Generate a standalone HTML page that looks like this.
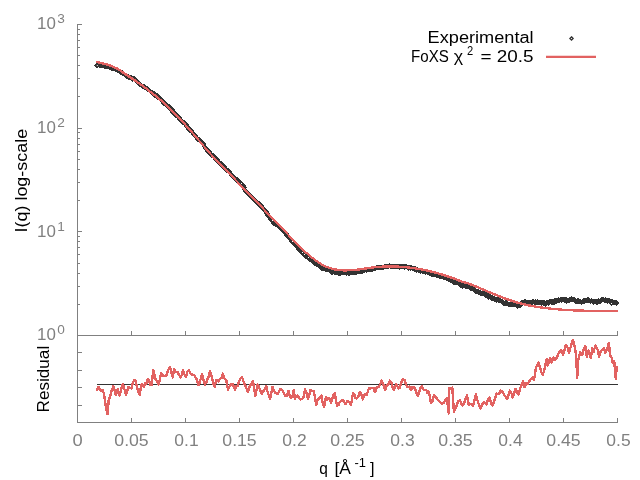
<!DOCTYPE html>
<html><head><meta charset="utf-8"><title>FoXS fit</title>
<style>html,body{margin:0;padding:0;background:#fff;}svg{display:block;will-change:transform;transform:translateZ(0);}</style></head>
<body><svg width="640" height="480" viewBox="0 0 640 480">
<rect width="640" height="480" fill="#fff"/>
<g stroke="#808080" stroke-width="1" fill="none" shape-rendering="crispEdges">
<path d="M77.5,24.0 V422.5 H617.5"/>
<path d="M77.5,335.5 H617.5"/>
<path d="M77.5,335.50 h4.5"/>
<path d="M77.5,304.29 h2.5"/>
<path d="M77.5,286.04 h2.5"/>
<path d="M77.5,273.09 h2.5"/>
<path d="M77.5,263.04 h2.5"/>
<path d="M77.5,254.83 h2.5"/>
<path d="M77.5,247.89 h2.5"/>
<path d="M77.5,241.88 h2.5"/>
<path d="M77.5,236.58 h2.5"/>
<path d="M77.5,231.83 h4.5"/>
<path d="M77.5,200.63 h2.5"/>
<path d="M77.5,182.37 h2.5"/>
<path d="M77.5,169.42 h2.5"/>
<path d="M77.5,159.37 h2.5"/>
<path d="M77.5,151.16 h2.5"/>
<path d="M77.5,144.22 h2.5"/>
<path d="M77.5,138.21 h2.5"/>
<path d="M77.5,132.91 h2.5"/>
<path d="M77.5,128.17 h4.5"/>
<path d="M77.5,96.96 h2.5"/>
<path d="M77.5,78.71 h2.5"/>
<path d="M77.5,65.75 h2.5"/>
<path d="M77.5,55.71 h2.5"/>
<path d="M77.5,47.50 h2.5"/>
<path d="M77.5,40.56 h2.5"/>
<path d="M77.5,34.55 h2.5"/>
<path d="M77.5,29.24 h2.5"/>
<path d="M77.5,24.50 h4.5"/>
<path d="M77.5,335.5 v-4.5"/>
<path d="M77.5,422.5 v-4.5"/>
<path d="M131.5,335.5 v-4.5"/>
<path d="M131.5,422.5 v-4.5"/>
<path d="M185.5,335.5 v-4.5"/>
<path d="M185.5,422.5 v-4.5"/>
<path d="M239.5,335.5 v-4.5"/>
<path d="M239.5,422.5 v-4.5"/>
<path d="M293.5,335.5 v-4.5"/>
<path d="M293.5,422.5 v-4.5"/>
<path d="M347.5,335.5 v-4.5"/>
<path d="M347.5,422.5 v-4.5"/>
<path d="M401.5,335.5 v-4.5"/>
<path d="M401.5,422.5 v-4.5"/>
<path d="M455.5,335.5 v-4.5"/>
<path d="M455.5,422.5 v-4.5"/>
<path d="M509.5,335.5 v-4.5"/>
<path d="M509.5,422.5 v-4.5"/>
<path d="M563.5,335.5 v-4.5"/>
<path d="M563.5,422.5 v-4.5"/>
<path d="M617.5,335.5 v-4.5"/>
<path d="M617.5,422.5 v-4.5"/>
<path d="M77.5,352.90 h4.5"/>
<path d="M77.5,370.30 h4.5"/>
<path d="M77.5,387.70 h4.5"/>
<path d="M77.5,405.10 h4.5"/>
</g>
<g font-family="Liberation Sans, sans-serif" font-size="16" fill="#808080">
<text x="77.5" y="446.2" text-anchor="middle" textLength="10.2" lengthAdjust="spacingAndGlyphs">0</text>
<text x="131.5" y="446.2" text-anchor="middle" textLength="34.4" lengthAdjust="spacingAndGlyphs">0.05</text>
<text x="186.5" y="446.2" text-anchor="middle" textLength="24.3" lengthAdjust="spacingAndGlyphs">0.1</text>
<text x="239.5" y="446.2" text-anchor="middle" textLength="34.4" lengthAdjust="spacingAndGlyphs">0.15</text>
<text x="294.5" y="446.2" text-anchor="middle" textLength="24.3" lengthAdjust="spacingAndGlyphs">0.2</text>
<text x="347.5" y="446.2" text-anchor="middle" textLength="34.4" lengthAdjust="spacingAndGlyphs">0.25</text>
<text x="402.5" y="446.2" text-anchor="middle" textLength="24.3" lengthAdjust="spacingAndGlyphs">0.3</text>
<text x="455.5" y="446.2" text-anchor="middle" textLength="34.4" lengthAdjust="spacingAndGlyphs">0.35</text>
<text x="510.5" y="446.2" text-anchor="middle" textLength="24.3" lengthAdjust="spacingAndGlyphs">0.4</text>
<text x="563.5" y="446.2" text-anchor="middle" textLength="34.4" lengthAdjust="spacingAndGlyphs">0.45</text>
<text x="618.5" y="446.2" text-anchor="middle" textLength="24.3" lengthAdjust="spacingAndGlyphs">0.5</text>
<text x="37" y="340.2" textLength="18.8" lengthAdjust="spacingAndGlyphs">10</text>
<text x="57.3" y="334.4" font-size="12.8" textLength="7.6" lengthAdjust="spacingAndGlyphs">0</text>
<text x="37" y="236.5" textLength="18.8" lengthAdjust="spacingAndGlyphs">10</text>
<text x="57.3" y="230.7" font-size="12.8" textLength="7.6" lengthAdjust="spacingAndGlyphs">1</text>
<text x="37" y="132.9" textLength="18.8" lengthAdjust="spacingAndGlyphs">10</text>
<text x="57.3" y="127.1" font-size="12.8" textLength="7.6" lengthAdjust="spacingAndGlyphs">2</text>
<text x="37" y="29.2" textLength="18.8" lengthAdjust="spacingAndGlyphs">10</text>
<text x="57.3" y="23.4" font-size="12.8" textLength="7.6" lengthAdjust="spacingAndGlyphs">3</text>
</g>
<g font-family="Liberation Sans, sans-serif" font-size="16" fill="#000">
<text transform="translate(26.6,232.4) rotate(-90)" textLength="103.5" lengthAdjust="spacingAndGlyphs">I(q) log-scale</text>
<text transform="translate(49.2,412.4) rotate(-90)" textLength="66.6" lengthAdjust="spacingAndGlyphs">Residual</text>
<text x="427.6" y="43" textLength="106" lengthAdjust="spacingAndGlyphs">Experimental</text>
<text x="411.1" y="62" textLength="37.8" lengthAdjust="spacingAndGlyphs">FoXS</text>
<text x="453.8" y="62" textLength="9.4" lengthAdjust="spacingAndGlyphs">χ</text>
<text x="467" y="55.4" font-size="12.8" textLength="6.2" lengthAdjust="spacingAndGlyphs">2</text>
<text x="480.5" y="62" textLength="53" lengthAdjust="spacingAndGlyphs">= 20.5</text>
<text x="319.3" y="473.6" textLength="8.6" lengthAdjust="spacingAndGlyphs">q</text>
<text x="334.5" y="473.6" textLength="16.5" lengthAdjust="spacingAndGlyphs">[Å</text>
<text x="354.5" y="467" font-size="12.8" textLength="11.5" lengthAdjust="spacingAndGlyphs">-1</text>
<text x="370" y="473.6" textLength="4.5" lengthAdjust="spacingAndGlyphs">]</text>
</g>
<path d="M97,384.5 H617.8" stroke="#333333" stroke-width="1" shape-rendering="crispEdges" fill="none"/>
<path d="M96.6,390.8 L98.6,386.9 L100.9,390.8 L102.5,390.0 L104.0,393.9 L105.6,405.6 L107.5,414.2 L108.8,399.4 L110.3,396.2 L111.8,390.0 L113.4,386.1 L115.8,394.7 L117.8,389.2 L119.4,395.5 L121.1,389.8 L122.8,383.8 L124.3,388.7 L125.9,394.7 L127.1,391.3 L128.3,386.9 L129.9,388.2 L131.4,388.4 L132.7,383.6 L134.0,380.5 L135.3,379.8 L136.9,386.9 L138.3,392.3 L139.7,394.7 L141.2,384.5 L142.6,384.6 L143.9,386.9 L145.2,383.1 L146.5,383.8 L147.8,379.0 L149.1,381.0 L150.4,384.7 L151.7,385.3 L153.3,369.7 L155.6,379.0 L157.2,381.6 L158.8,384.5 L161.1,372.8 L163.4,375.9 L165.0,376.2 L166.6,375.2 L168.3,369.7 L170.0,367.3 L171.4,373.0 L172.8,377.5 L174.0,368.9 L175.8,372.1 L177.5,372.0 L179.1,374.9 L180.6,377.5 L181.8,375.1 L183.0,370.5 L184.5,374.4 L186.0,376.7 L187.4,371.7 L188.9,370.5 L190.4,373.6 L192.0,374.4 L193.2,375.2 L194.4,375.2 L195.7,377.7 L197.0,379.9 L198.3,385.3 L199.6,383.3 L200.9,377.9 L202.2,374.4 L203.6,380.4 L205.0,384.5 L206.2,382.9 L207.5,378.8 L208.8,376.4 L210.0,371.2 L211.6,376.0 L213.1,383.0 L214.7,386.9 L216.2,379.8 L218.6,381.4 L220.0,378.6 L221.4,378.1 L222.8,373.6 L224.6,378.8 L226.4,380.6 L228.0,390.0 L229.6,386.1 L231.1,384.2 L232.7,383.8 L235.0,390.0 L236.3,385.9 L237.6,386.3 L238.9,381.4 L240.4,378.8 L242.0,376.7 L243.2,380.8 L244.4,383.8 L246.1,387.1 L247.8,392.3 L249.8,386.1 L251.4,383.8 L253.0,381.4 L255.3,396.2 L257.7,384.5 L259.0,387.1 L260.3,390.1 L261.6,393.9 L263.2,391.7 L264.7,389.1 L266.2,386.1 L267.6,392.0 L268.9,395.2 L270.2,398.6 L272.5,386.9 L273.8,390.9 L275.1,392.6 L276.4,393.1 L277.7,394.0 L279.0,391.3 L280.3,389.2 L282.1,389.7 L283.9,393.1 L285.4,395.9 L287.0,395.5 L288.6,390.8 L289.9,396.3 L291.2,397.8 L292.5,395.7 L293.8,390.0 L294.8,398.6 L297.2,395.5 L298.5,397.1 L299.7,399.0 L301.0,399.4 L303.4,397.8 L305.0,389.2 L306.5,392.6 L308.0,398.6 L309.2,395.8 L310.5,390.0 L312.1,390.7 L313.6,390.8 L314.9,396.9 L316.2,404.8 L317.6,399.8 L319.0,398.6 L321.4,395.5 L322.7,402.9 L324.0,407.2 L326.0,397.0 L327.6,399.6 L329.2,397.8 L331.2,402.5 L333.0,396.0 L334.7,393.1 L337.0,405.6 L338.5,405.0 L340.0,401.7 L341.6,400.6 L343.3,400.2 L345.6,404.0 L347.2,401.3 L348.8,401.7 L351.0,404.8 L353.0,393.1 L354.2,394.0 L355.4,397.9 L356.6,398.6 L358.1,397.1 L359.7,392.3 L361.2,393.8 L362.8,399.4 L365.0,393.9 L366.7,394.7 L369.0,388.4 L370.6,388.6 L372.2,387.7 L373.6,388.0 L375.0,392.3 L376.9,386.9 L378.5,386.9 L380.1,384.7 L381.6,380.6 L383.4,384.6 L385.2,390.0 L386.7,385.3 L388.2,384.6 L389.8,380.6 L391.4,382.2 L392.7,388.2 L394.0,390.0 L396.0,384.5 L397.2,385.6 L398.5,388.8 L399.7,387.7 L401.4,382.4 L403.0,378.8 L404.6,380.2 L406.2,385.3 L407.8,387.3 L409.4,386.4 L411.0,390.0 L412.5,387.1 L414.0,386.9 L415.3,389.6 L416.7,393.6 L418.0,396.2 L419.3,391.4 L420.6,387.5 L421.9,386.1 L423.4,389.7 L425.0,390.0 L426.3,389.7 L427.6,393.1 L428.9,391.6 L431.0,403.3 L432.5,401.1 L434.0,395.5 L435.8,396.9 L437.5,399.4 L439.1,400.8 L440.6,402.6 L442.2,404.0 L443.8,402.6 L445.3,400.3 L446.9,397.8 L448.8,413.4 L449.2,388.4 L450.8,388.3 L452.3,387.7 L453.9,411.9 L456.2,407.2 L457.8,401.7 L460.0,400.2 L461.2,403.4 L462.5,405.6 L464.0,404.2 L465.4,398.9 L466.9,395.5 L468.8,404.8 L470.8,403.8 L473.0,406.0 L474.5,399.9 L476.0,394.4 L477.3,400.0 L478.6,403.8 L480.6,408.4 L482.3,404.1 L484.0,402.2 L486.4,404.5 L487.9,400.1 L489.5,397.5 L491.1,403.5 L492.7,405.3 L494.0,401.5 L495.3,397.7 L496.6,393.6 L499.0,394.4 L500.5,390.7 L502.0,391.2 L504.4,395.2 L505.8,396.7 L507.2,399.0 L508.5,395.1 L509.8,390.5 L511.1,391.9 L512.5,397.5 L514.0,393.7 L515.6,388.9 L517.0,392.2 L518.4,394.4 L520.8,386.6 L523.0,381.0 L524.7,387.3 L526.3,383.3 L527.8,383.7 L529.4,381.0 L531.0,379.0 L532.5,377.2 L534.0,380.3 L536.0,367.8 L538.4,362.3 L540.3,368.6 L541.5,372.5 L542.8,374.8 L544.7,368.6 L546.6,359.2 L547.8,365.5 L549.0,361.3 L550.2,358.4 L551.7,362.3 L553.3,357.7 L555.3,360.0 L557.0,357.4 L558.8,353.0 L561.0,349.8 L563.0,354.5 L564.4,350.9 L565.8,345.2 L567.4,347.0 L569.0,353.0 L570.5,347.5 L572.8,339.7 L575.0,347.5 L576.2,356.9 L577.2,378.0 L578.3,360.0 L580.3,352.2 L582.2,355.3 L583.8,348.7 L585.3,346.0 L586.9,356.9 L588.4,350.6 L590.8,357.7 L592.3,348.3 L593.4,352.2 L595.5,345.2 L597.8,349.8 L599.0,356.9 L601.0,350.6 L602.5,350.2 L604.0,348.3 L605.3,353.0 L607.2,348.3 L609.0,342.8 L610.0,355.3 L611.9,357.7 L612.7,363.0 L614.2,360.8 L615.8,378.8 L616.6,367.0 L617.3,371.7" stroke="#e26261" stroke-width="2.4" fill="none" stroke-linejoin="round" shape-rendering="crispEdges"/>
<path d="M96.8,63.3l1.9,1.9l-1.9,1.9l-1.9,-1.9zM97.8,63.1l1.9,1.9l-1.9,1.9l-1.9,-1.9zM98.8,63.0l1.9,1.9l-1.9,1.9l-1.9,-1.9zM99.8,63.3l1.9,1.9l-1.9,1.9l-1.9,-1.9zM100.8,63.3l1.9,1.9l-1.9,1.9l-1.9,-1.9zM101.8,63.6l1.9,1.9l-1.9,1.9l-1.9,-1.9zM102.8,63.6l1.9,1.9l-1.9,1.9l-1.9,-1.9zM103.8,64.0l1.9,1.9l-1.9,1.9l-1.9,-1.9zM104.8,64.2l1.9,1.9l-1.9,1.9l-1.9,-1.9zM105.8,64.2l1.9,1.9l-1.9,1.9l-1.9,-1.9zM106.8,64.7l1.9,1.9l-1.9,1.9l-1.9,-1.9zM107.8,64.6l1.9,1.9l-1.9,1.9l-1.9,-1.9zM108.8,64.9l1.9,1.9l-1.9,1.9l-1.9,-1.9zM109.8,65.6l1.9,1.9l-1.9,1.9l-1.9,-1.9zM110.8,65.9l1.9,1.9l-1.9,1.9l-1.9,-1.9zM111.8,66.2l1.9,1.9l-1.9,1.9l-1.9,-1.9zM112.8,66.3l1.9,1.9l-1.9,1.9l-1.9,-1.9zM113.8,66.7l1.9,1.9l-1.9,1.9l-1.9,-1.9zM114.8,67.0l1.9,1.9l-1.9,1.9l-1.9,-1.9zM115.8,67.5l1.9,1.9l-1.9,1.9l-1.9,-1.9zM116.8,67.9l1.9,1.9l-1.9,1.9l-1.9,-1.9zM117.8,68.3l1.9,1.9l-1.9,1.9l-1.9,-1.9zM118.8,68.8l1.9,1.9l-1.9,1.9l-1.9,-1.9zM119.8,69.8l1.9,1.9l-1.9,1.9l-1.9,-1.9zM120.8,70.5l1.9,1.9l-1.9,1.9l-1.9,-1.9zM121.8,70.5l1.9,1.9l-1.9,1.9l-1.9,-1.9zM122.8,71.1l1.9,1.9l-1.9,1.9l-1.9,-1.9zM123.8,72.0l1.9,1.9l-1.9,1.9l-1.9,-1.9zM124.8,72.9l1.9,1.9l-1.9,1.9l-1.9,-1.9zM125.8,73.4l1.9,1.9l-1.9,1.9l-1.9,-1.9zM126.8,74.1l1.9,1.9l-1.9,1.9l-1.9,-1.9zM127.8,74.6l1.9,1.9l-1.9,1.9l-1.9,-1.9zM128.8,75.2l1.9,1.9l-1.9,1.9l-1.9,-1.9zM129.8,75.9l1.9,1.9l-1.9,1.9l-1.9,-1.9zM130.8,75.4l1.9,1.9l-1.9,1.9l-1.9,-1.9zM131.8,76.8l1.9,1.9l-1.9,1.9l-1.9,-1.9zM132.8,77.2l1.9,1.9l-1.9,1.9l-1.9,-1.9zM133.8,76.8l1.9,1.9l-1.9,1.9l-1.9,-1.9zM134.8,77.1l1.9,1.9l-1.9,1.9l-1.9,-1.9zM135.8,78.6l1.9,1.9l-1.9,1.9l-1.9,-1.9zM136.8,79.1l1.9,1.9l-1.9,1.9l-1.9,-1.9zM137.8,80.6l1.9,1.9l-1.9,1.9l-1.9,-1.9zM138.8,81.1l1.9,1.9l-1.9,1.9l-1.9,-1.9zM139.8,82.4l1.9,1.9l-1.9,1.9l-1.9,-1.9zM140.8,83.0l1.9,1.9l-1.9,1.9l-1.9,-1.9zM141.8,84.0l1.9,1.9l-1.9,1.9l-1.9,-1.9zM142.8,84.2l1.9,1.9l-1.9,1.9l-1.9,-1.9zM143.8,84.5l1.9,1.9l-1.9,1.9l-1.9,-1.9zM144.8,85.4l1.9,1.9l-1.9,1.9l-1.9,-1.9zM145.8,85.8l1.9,1.9l-1.9,1.9l-1.9,-1.9zM146.8,86.7l1.9,1.9l-1.9,1.9l-1.9,-1.9zM147.8,87.8l1.9,1.9l-1.9,1.9l-1.9,-1.9zM148.8,87.8l1.9,1.9l-1.9,1.9l-1.9,-1.9zM149.8,88.9l1.9,1.9l-1.9,1.9l-1.9,-1.9zM150.8,90.0l1.9,1.9l-1.9,1.9l-1.9,-1.9zM151.8,90.8l1.9,1.9l-1.9,1.9l-1.9,-1.9zM152.8,91.1l1.9,1.9l-1.9,1.9l-1.9,-1.9zM153.8,91.3l1.9,1.9l-1.9,1.9l-1.9,-1.9zM154.8,93.2l1.9,1.9l-1.9,1.9l-1.9,-1.9zM155.8,93.7l1.9,1.9l-1.9,1.9l-1.9,-1.9zM156.8,93.7l1.9,1.9l-1.9,1.9l-1.9,-1.9zM157.8,95.3l1.9,1.9l-1.9,1.9l-1.9,-1.9zM158.8,95.8l1.9,1.9l-1.9,1.9l-1.9,-1.9zM159.8,96.7l1.9,1.9l-1.9,1.9l-1.9,-1.9zM160.8,97.3l1.9,1.9l-1.9,1.9l-1.9,-1.9zM161.8,98.4l1.9,1.9l-1.9,1.9l-1.9,-1.9zM162.8,99.3l1.9,1.9l-1.9,1.9l-1.9,-1.9zM163.8,101.1l1.9,1.9l-1.9,1.9l-1.9,-1.9zM164.8,101.1l1.9,1.9l-1.9,1.9l-1.9,-1.9zM165.8,102.0l1.9,1.9l-1.9,1.9l-1.9,-1.9zM166.8,103.4l1.9,1.9l-1.9,1.9l-1.9,-1.9zM167.8,104.6l1.9,1.9l-1.9,1.9l-1.9,-1.9zM168.8,104.4l1.9,1.9l-1.9,1.9l-1.9,-1.9zM169.8,105.5l1.9,1.9l-1.9,1.9l-1.9,-1.9zM170.8,107.1l1.9,1.9l-1.9,1.9l-1.9,-1.9zM171.8,107.6l1.9,1.9l-1.9,1.9l-1.9,-1.9zM172.8,110.1l1.9,1.9l-1.9,1.9l-1.9,-1.9zM173.8,110.6l1.9,1.9l-1.9,1.9l-1.9,-1.9zM174.8,111.8l1.9,1.9l-1.9,1.9l-1.9,-1.9zM175.8,113.1l1.9,1.9l-1.9,1.9l-1.9,-1.9zM176.8,113.6l1.9,1.9l-1.9,1.9l-1.9,-1.9zM177.8,114.1l1.9,1.9l-1.9,1.9l-1.9,-1.9zM178.8,115.6l1.9,1.9l-1.9,1.9l-1.9,-1.9zM179.8,117.4l1.9,1.9l-1.9,1.9l-1.9,-1.9zM180.8,118.2l1.9,1.9l-1.9,1.9l-1.9,-1.9zM181.8,119.5l1.9,1.9l-1.9,1.9l-1.9,-1.9zM182.8,120.6l1.9,1.9l-1.9,1.9l-1.9,-1.9zM183.8,120.7l1.9,1.9l-1.9,1.9l-1.9,-1.9zM184.8,121.3l1.9,1.9l-1.9,1.9l-1.9,-1.9zM185.8,122.5l1.9,1.9l-1.9,1.9l-1.9,-1.9zM186.8,124.1l1.9,1.9l-1.9,1.9l-1.9,-1.9zM187.8,125.6l1.9,1.9l-1.9,1.9l-1.9,-1.9zM188.8,127.3l1.9,1.9l-1.9,1.9l-1.9,-1.9zM189.8,128.1l1.9,1.9l-1.9,1.9l-1.9,-1.9zM190.8,128.6l1.9,1.9l-1.9,1.9l-1.9,-1.9zM191.8,129.4l1.9,1.9l-1.9,1.9l-1.9,-1.9zM192.8,130.9l1.9,1.9l-1.9,1.9l-1.9,-1.9zM193.8,132.5l1.9,1.9l-1.9,1.9l-1.9,-1.9zM194.8,133.5l1.9,1.9l-1.9,1.9l-1.9,-1.9zM195.8,134.2l1.9,1.9l-1.9,1.9l-1.9,-1.9zM196.8,136.0l1.9,1.9l-1.9,1.9l-1.9,-1.9zM197.8,137.1l1.9,1.9l-1.9,1.9l-1.9,-1.9zM198.8,137.4l1.9,1.9l-1.9,1.9l-1.9,-1.9zM199.8,138.7l1.9,1.9l-1.9,1.9l-1.9,-1.9zM200.8,139.7l1.9,1.9l-1.9,1.9l-1.9,-1.9zM201.8,141.0l1.9,1.9l-1.9,1.9l-1.9,-1.9zM202.8,141.6l1.9,1.9l-1.9,1.9l-1.9,-1.9zM203.8,142.9l1.9,1.9l-1.9,1.9l-1.9,-1.9zM204.8,145.0l1.9,1.9l-1.9,1.9l-1.9,-1.9zM205.8,146.1l1.9,1.9l-1.9,1.9l-1.9,-1.9zM206.8,147.9l1.9,1.9l-1.9,1.9l-1.9,-1.9zM207.8,149.1l1.9,1.9l-1.9,1.9l-1.9,-1.9zM208.8,149.0l1.9,1.9l-1.9,1.9l-1.9,-1.9zM209.8,150.3l1.9,1.9l-1.9,1.9l-1.9,-1.9zM210.8,152.4l1.9,1.9l-1.9,1.9l-1.9,-1.9zM211.8,153.7l1.9,1.9l-1.9,1.9l-1.9,-1.9zM212.8,153.7l1.9,1.9l-1.9,1.9l-1.9,-1.9zM213.8,154.4l1.9,1.9l-1.9,1.9l-1.9,-1.9zM214.8,155.5l1.9,1.9l-1.9,1.9l-1.9,-1.9zM215.8,157.2l1.9,1.9l-1.9,1.9l-1.9,-1.9zM216.8,157.6l1.9,1.9l-1.9,1.9l-1.9,-1.9zM217.8,160.0l1.9,1.9l-1.9,1.9l-1.9,-1.9zM218.8,160.2l1.9,1.9l-1.9,1.9l-1.9,-1.9zM219.8,161.9l1.9,1.9l-1.9,1.9l-1.9,-1.9zM220.8,161.5l1.9,1.9l-1.9,1.9l-1.9,-1.9zM221.8,163.1l1.9,1.9l-1.9,1.9l-1.9,-1.9zM222.8,163.8l1.9,1.9l-1.9,1.9l-1.9,-1.9zM223.8,164.5l1.9,1.9l-1.9,1.9l-1.9,-1.9zM224.8,166.2l1.9,1.9l-1.9,1.9l-1.9,-1.9zM225.8,167.4l1.9,1.9l-1.9,1.9l-1.9,-1.9zM226.8,168.1l1.9,1.9l-1.9,1.9l-1.9,-1.9zM227.8,168.9l1.9,1.9l-1.9,1.9l-1.9,-1.9zM228.8,168.8l1.9,1.9l-1.9,1.9l-1.9,-1.9zM229.8,170.4l1.9,1.9l-1.9,1.9l-1.9,-1.9zM230.8,172.0l1.9,1.9l-1.9,1.9l-1.9,-1.9zM231.8,173.3l1.9,1.9l-1.9,1.9l-1.9,-1.9zM232.8,174.3l1.9,1.9l-1.9,1.9l-1.9,-1.9zM233.8,174.8l1.9,1.9l-1.9,1.9l-1.9,-1.9zM234.8,175.8l1.9,1.9l-1.9,1.9l-1.9,-1.9zM235.8,177.1l1.9,1.9l-1.9,1.9l-1.9,-1.9zM236.8,177.6l1.9,1.9l-1.9,1.9l-1.9,-1.9zM237.8,179.7l1.9,1.9l-1.9,1.9l-1.9,-1.9zM238.8,180.8l1.9,1.9l-1.9,1.9l-1.9,-1.9zM239.8,180.4l1.9,1.9l-1.9,1.9l-1.9,-1.9zM240.8,181.6l1.9,1.9l-1.9,1.9l-1.9,-1.9zM241.8,182.0l1.9,1.9l-1.9,1.9l-1.9,-1.9zM242.8,183.7l1.9,1.9l-1.9,1.9l-1.9,-1.9zM243.8,185.6l1.9,1.9l-1.9,1.9l-1.9,-1.9zM244.8,188.0l1.9,1.9l-1.9,1.9l-1.9,-1.9zM245.8,189.3l1.9,1.9l-1.9,1.9l-1.9,-1.9zM246.8,190.3l1.9,1.9l-1.9,1.9l-1.9,-1.9zM247.8,191.1l1.9,1.9l-1.9,1.9l-1.9,-1.9zM248.8,192.8l1.9,1.9l-1.9,1.9l-1.9,-1.9zM249.8,193.6l1.9,1.9l-1.9,1.9l-1.9,-1.9zM250.8,194.2l1.9,1.9l-1.9,1.9l-1.9,-1.9zM251.8,195.4l1.9,1.9l-1.9,1.9l-1.9,-1.9zM252.8,196.3l1.9,1.9l-1.9,1.9l-1.9,-1.9zM253.8,197.5l1.9,1.9l-1.9,1.9l-1.9,-1.9zM254.8,199.0l1.9,1.9l-1.9,1.9l-1.9,-1.9zM255.8,199.5l1.9,1.9l-1.9,1.9l-1.9,-1.9zM256.8,199.9l1.9,1.9l-1.9,1.9l-1.9,-1.9zM257.8,201.2l1.9,1.9l-1.9,1.9l-1.9,-1.9zM258.8,201.6l1.9,1.9l-1.9,1.9l-1.9,-1.9zM259.8,203.5l1.9,1.9l-1.9,1.9l-1.9,-1.9zM260.8,203.9l1.9,1.9l-1.9,1.9l-1.9,-1.9zM261.8,204.1l1.9,1.9l-1.9,1.9l-1.9,-1.9zM262.8,206.2l1.9,1.9l-1.9,1.9l-1.9,-1.9zM263.8,207.4l1.9,1.9l-1.9,1.9l-1.9,-1.9zM264.8,208.5l1.9,1.9l-1.9,1.9l-1.9,-1.9zM265.8,209.5l1.9,1.9l-1.9,1.9l-1.9,-1.9zM266.8,211.6l1.9,1.9l-1.9,1.9l-1.9,-1.9zM267.8,213.5l1.9,1.9l-1.9,1.9l-1.9,-1.9zM268.8,214.5l1.9,1.9l-1.9,1.9l-1.9,-1.9zM269.8,215.2l1.9,1.9l-1.9,1.9l-1.9,-1.9zM270.8,217.2l1.9,1.9l-1.9,1.9l-1.9,-1.9zM271.8,218.7l1.9,1.9l-1.9,1.9l-1.9,-1.9zM272.8,219.2l1.9,1.9l-1.9,1.9l-1.9,-1.9zM273.8,221.3l1.9,1.9l-1.9,1.9l-1.9,-1.9zM274.8,221.2l1.9,1.9l-1.9,1.9l-1.9,-1.9zM275.8,222.6l1.9,1.9l-1.9,1.9l-1.9,-1.9zM276.8,222.9l1.9,1.9l-1.9,1.9l-1.9,-1.9zM277.8,223.6l1.9,1.9l-1.9,1.9l-1.9,-1.9zM278.8,224.4l1.9,1.9l-1.9,1.9l-1.9,-1.9zM279.8,225.6l1.9,1.9l-1.9,1.9l-1.9,-1.9zM280.8,227.0l1.9,1.9l-1.9,1.9l-1.9,-1.9zM281.8,227.7l1.9,1.9l-1.9,1.9l-1.9,-1.9zM282.8,228.4l1.9,1.9l-1.9,1.9l-1.9,-1.9zM283.8,229.0l1.9,1.9l-1.9,1.9l-1.9,-1.9zM284.8,230.8l1.9,1.9l-1.9,1.9l-1.9,-1.9zM285.8,231.7l1.9,1.9l-1.9,1.9l-1.9,-1.9zM286.8,233.3l1.9,1.9l-1.9,1.9l-1.9,-1.9zM287.8,234.0l1.9,1.9l-1.9,1.9l-1.9,-1.9zM288.8,235.8l1.9,1.9l-1.9,1.9l-1.9,-1.9zM289.8,237.0l1.9,1.9l-1.9,1.9l-1.9,-1.9zM290.8,237.8l1.9,1.9l-1.9,1.9l-1.9,-1.9zM291.8,239.4l1.9,1.9l-1.9,1.9l-1.9,-1.9zM292.8,240.0l1.9,1.9l-1.9,1.9l-1.9,-1.9zM293.8,241.4l1.9,1.9l-1.9,1.9l-1.9,-1.9zM294.8,241.8l1.9,1.9l-1.9,1.9l-1.9,-1.9zM295.8,243.1l1.9,1.9l-1.9,1.9l-1.9,-1.9zM296.8,244.6l1.9,1.9l-1.9,1.9l-1.9,-1.9zM297.8,245.7l1.9,1.9l-1.9,1.9l-1.9,-1.9zM298.8,247.7l1.9,1.9l-1.9,1.9l-1.9,-1.9zM299.8,248.7l1.9,1.9l-1.9,1.9l-1.9,-1.9zM300.8,249.2l1.9,1.9l-1.9,1.9l-1.9,-1.9zM301.8,250.4l1.9,1.9l-1.9,1.9l-1.9,-1.9zM302.8,251.1l1.9,1.9l-1.9,1.9l-1.9,-1.9zM303.8,252.8l1.9,1.9l-1.9,1.9l-1.9,-1.9zM304.8,253.2l1.9,1.9l-1.9,1.9l-1.9,-1.9zM305.8,254.6l1.9,1.9l-1.9,1.9l-1.9,-1.9zM306.8,254.4l1.9,1.9l-1.9,1.9l-1.9,-1.9zM307.8,255.8l1.9,1.9l-1.9,1.9l-1.9,-1.9zM308.8,256.1l1.9,1.9l-1.9,1.9l-1.9,-1.9zM309.8,257.3l1.9,1.9l-1.9,1.9l-1.9,-1.9zM310.8,257.9l1.9,1.9l-1.9,1.9l-1.9,-1.9zM311.8,259.0l1.9,1.9l-1.9,1.9l-1.9,-1.9zM312.8,259.8l1.9,1.9l-1.9,1.9l-1.9,-1.9zM313.8,260.5l1.9,1.9l-1.9,1.9l-1.9,-1.9zM314.8,261.4l1.9,1.9l-1.9,1.9l-1.9,-1.9zM315.8,261.9l1.9,1.9l-1.9,1.9l-1.9,-1.9zM316.8,262.3l1.9,1.9l-1.9,1.9l-1.9,-1.9zM317.8,262.5l1.9,1.9l-1.9,1.9l-1.9,-1.9zM318.8,263.8l1.9,1.9l-1.9,1.9l-1.9,-1.9zM319.8,264.5l1.9,1.9l-1.9,1.9l-1.9,-1.9zM320.8,265.9l1.9,1.9l-1.9,1.9l-1.9,-1.9zM321.8,266.3l1.9,1.9l-1.9,1.9l-1.9,-1.9zM322.8,266.3l1.9,1.9l-1.9,1.9l-1.9,-1.9zM323.8,266.6l1.9,1.9l-1.9,1.9l-1.9,-1.9zM324.8,267.0l1.9,1.9l-1.9,1.9l-1.9,-1.9zM325.8,267.6l1.9,1.9l-1.9,1.9l-1.9,-1.9zM326.8,267.5l1.9,1.9l-1.9,1.9l-1.9,-1.9zM327.8,267.8l1.9,1.9l-1.9,1.9l-1.9,-1.9zM328.8,267.9l1.9,1.9l-1.9,1.9l-1.9,-1.9zM329.8,268.7l1.9,1.9l-1.9,1.9l-1.9,-1.9zM330.8,269.6l1.9,1.9l-1.9,1.9l-1.9,-1.9zM331.8,270.3l1.9,1.9l-1.9,1.9l-1.9,-1.9zM332.8,270.1l1.9,1.9l-1.9,1.9l-1.9,-1.9zM333.8,269.7l1.9,1.9l-1.9,1.9l-1.9,-1.9zM334.8,270.5l1.9,1.9l-1.9,1.9l-1.9,-1.9zM335.8,270.4l1.9,1.9l-1.9,1.9l-1.9,-1.9zM336.8,270.8l1.9,1.9l-1.9,1.9l-1.9,-1.9zM337.8,270.5l1.9,1.9l-1.9,1.9l-1.9,-1.9zM338.8,271.3l1.9,1.9l-1.9,1.9l-1.9,-1.9zM339.8,271.1l1.9,1.9l-1.9,1.9l-1.9,-1.9zM340.8,271.4l1.9,1.9l-1.9,1.9l-1.9,-1.9zM341.8,270.7l1.9,1.9l-1.9,1.9l-1.9,-1.9zM342.8,270.9l1.9,1.9l-1.9,1.9l-1.9,-1.9zM343.8,271.0l1.9,1.9l-1.9,1.9l-1.9,-1.9zM344.8,270.6l1.9,1.9l-1.9,1.9l-1.9,-1.9zM345.8,271.0l1.9,1.9l-1.9,1.9l-1.9,-1.9zM346.8,271.2l1.9,1.9l-1.9,1.9l-1.9,-1.9zM347.8,270.6l1.9,1.9l-1.9,1.9l-1.9,-1.9zM348.8,271.2l1.9,1.9l-1.9,1.9l-1.9,-1.9zM349.8,271.2l1.9,1.9l-1.9,1.9l-1.9,-1.9zM350.8,270.8l1.9,1.9l-1.9,1.9l-1.9,-1.9zM351.8,270.5l1.9,1.9l-1.9,1.9l-1.9,-1.9zM352.8,270.6l1.9,1.9l-1.9,1.9l-1.9,-1.9zM353.8,270.1l1.9,1.9l-1.9,1.9l-1.9,-1.9zM354.8,270.1l1.9,1.9l-1.9,1.9l-1.9,-1.9zM355.8,270.2l1.9,1.9l-1.9,1.9l-1.9,-1.9zM356.8,270.1l1.9,1.9l-1.9,1.9l-1.9,-1.9zM357.8,269.4l1.9,1.9l-1.9,1.9l-1.9,-1.9zM358.8,269.3l1.9,1.9l-1.9,1.9l-1.9,-1.9zM359.8,269.6l1.9,1.9l-1.9,1.9l-1.9,-1.9zM360.8,269.7l1.9,1.9l-1.9,1.9l-1.9,-1.9zM361.8,268.9l1.9,1.9l-1.9,1.9l-1.9,-1.9zM362.8,269.2l1.9,1.9l-1.9,1.9l-1.9,-1.9zM363.8,268.6l1.9,1.9l-1.9,1.9l-1.9,-1.9zM364.8,268.2l1.9,1.9l-1.9,1.9l-1.9,-1.9zM365.8,268.0l1.9,1.9l-1.9,1.9l-1.9,-1.9zM366.8,268.1l1.9,1.9l-1.9,1.9l-1.9,-1.9zM367.8,267.7l1.9,1.9l-1.9,1.9l-1.9,-1.9zM368.8,267.5l1.9,1.9l-1.9,1.9l-1.9,-1.9zM369.8,267.7l1.9,1.9l-1.9,1.9l-1.9,-1.9zM370.8,267.7l1.9,1.9l-1.9,1.9l-1.9,-1.9zM371.8,266.9l1.9,1.9l-1.9,1.9l-1.9,-1.9zM372.8,267.3l1.9,1.9l-1.9,1.9l-1.9,-1.9zM373.8,266.5l1.9,1.9l-1.9,1.9l-1.9,-1.9zM374.8,266.6l1.9,1.9l-1.9,1.9l-1.9,-1.9zM375.8,266.2l1.9,1.9l-1.9,1.9l-1.9,-1.9zM376.8,265.6l1.9,1.9l-1.9,1.9l-1.9,-1.9zM377.8,265.4l1.9,1.9l-1.9,1.9l-1.9,-1.9zM378.8,265.6l1.9,1.9l-1.9,1.9l-1.9,-1.9zM379.8,266.0l1.9,1.9l-1.9,1.9l-1.9,-1.9zM380.8,265.5l1.9,1.9l-1.9,1.9l-1.9,-1.9zM381.8,265.2l1.9,1.9l-1.9,1.9l-1.9,-1.9zM382.8,265.2l1.9,1.9l-1.9,1.9l-1.9,-1.9zM383.8,265.3l1.9,1.9l-1.9,1.9l-1.9,-1.9zM384.8,265.0l1.9,1.9l-1.9,1.9l-1.9,-1.9zM385.8,264.4l1.9,1.9l-1.9,1.9l-1.9,-1.9zM386.8,264.5l1.9,1.9l-1.9,1.9l-1.9,-1.9zM387.8,264.3l1.9,1.9l-1.9,1.9l-1.9,-1.9zM388.8,264.2l1.9,1.9l-1.9,1.9l-1.9,-1.9zM389.8,263.9l1.9,1.9l-1.9,1.9l-1.9,-1.9zM390.8,264.3l1.9,1.9l-1.9,1.9l-1.9,-1.9zM391.8,264.2l1.9,1.9l-1.9,1.9l-1.9,-1.9zM392.8,264.7l1.9,1.9l-1.9,1.9l-1.9,-1.9zM393.8,264.5l1.9,1.9l-1.9,1.9l-1.9,-1.9zM394.8,264.6l1.9,1.9l-1.9,1.9l-1.9,-1.9zM395.8,264.4l1.9,1.9l-1.9,1.9l-1.9,-1.9zM396.8,264.3l1.9,1.9l-1.9,1.9l-1.9,-1.9zM397.8,265.0l1.9,1.9l-1.9,1.9l-1.9,-1.9zM398.8,264.9l1.9,1.9l-1.9,1.9l-1.9,-1.9zM399.8,265.1l1.9,1.9l-1.9,1.9l-1.9,-1.9zM400.8,264.5l1.9,1.9l-1.9,1.9l-1.9,-1.9zM401.8,264.6l1.9,1.9l-1.9,1.9l-1.9,-1.9zM402.8,264.8l1.9,1.9l-1.9,1.9l-1.9,-1.9zM403.8,264.9l1.9,1.9l-1.9,1.9l-1.9,-1.9zM404.8,265.1l1.9,1.9l-1.9,1.9l-1.9,-1.9zM405.8,264.9l1.9,1.9l-1.9,1.9l-1.9,-1.9zM406.8,264.9l1.9,1.9l-1.9,1.9l-1.9,-1.9zM407.8,265.3l1.9,1.9l-1.9,1.9l-1.9,-1.9zM408.8,266.1l1.9,1.9l-1.9,1.9l-1.9,-1.9zM409.8,265.7l1.9,1.9l-1.9,1.9l-1.9,-1.9zM410.8,266.3l1.9,1.9l-1.9,1.9l-1.9,-1.9zM411.8,266.0l1.9,1.9l-1.9,1.9l-1.9,-1.9zM412.8,266.4l1.9,1.9l-1.9,1.9l-1.9,-1.9zM413.8,266.7l1.9,1.9l-1.9,1.9l-1.9,-1.9zM414.8,267.5l1.9,1.9l-1.9,1.9l-1.9,-1.9zM415.8,267.0l1.9,1.9l-1.9,1.9l-1.9,-1.9zM416.8,268.1l1.9,1.9l-1.9,1.9l-1.9,-1.9zM417.8,268.0l1.9,1.9l-1.9,1.9l-1.9,-1.9zM418.8,268.2l1.9,1.9l-1.9,1.9l-1.9,-1.9zM419.8,268.8l1.9,1.9l-1.9,1.9l-1.9,-1.9zM420.8,269.1l1.9,1.9l-1.9,1.9l-1.9,-1.9zM421.8,268.6l1.9,1.9l-1.9,1.9l-1.9,-1.9zM422.8,269.1l1.9,1.9l-1.9,1.9l-1.9,-1.9zM423.8,269.5l1.9,1.9l-1.9,1.9l-1.9,-1.9zM424.8,269.9l1.9,1.9l-1.9,1.9l-1.9,-1.9zM425.8,270.2l1.9,1.9l-1.9,1.9l-1.9,-1.9zM426.8,269.8l1.9,1.9l-1.9,1.9l-1.9,-1.9zM427.8,270.7l1.9,1.9l-1.9,1.9l-1.9,-1.9zM428.8,271.0l1.9,1.9l-1.9,1.9l-1.9,-1.9zM429.8,271.4l1.9,1.9l-1.9,1.9l-1.9,-1.9zM430.8,272.0l1.9,1.9l-1.9,1.9l-1.9,-1.9zM431.8,272.4l1.9,1.9l-1.9,1.9l-1.9,-1.9zM432.8,272.5l1.9,1.9l-1.9,1.9l-1.9,-1.9zM433.8,272.8l1.9,1.9l-1.9,1.9l-1.9,-1.9zM434.8,273.0l1.9,1.9l-1.9,1.9l-1.9,-1.9zM435.8,272.9l1.9,1.9l-1.9,1.9l-1.9,-1.9zM436.8,273.7l1.9,1.9l-1.9,1.9l-1.9,-1.9zM437.8,273.9l1.9,1.9l-1.9,1.9l-1.9,-1.9zM438.8,274.0l1.9,1.9l-1.9,1.9l-1.9,-1.9zM439.8,274.1l1.9,1.9l-1.9,1.9l-1.9,-1.9zM440.8,274.7l1.9,1.9l-1.9,1.9l-1.9,-1.9zM441.8,274.6l1.9,1.9l-1.9,1.9l-1.9,-1.9zM442.8,274.9l1.9,1.9l-1.9,1.9l-1.9,-1.9zM443.8,275.1l1.9,1.9l-1.9,1.9l-1.9,-1.9zM444.8,275.3l1.9,1.9l-1.9,1.9l-1.9,-1.9zM445.8,275.4l1.9,1.9l-1.9,1.9l-1.9,-1.9zM446.8,276.2l1.9,1.9l-1.9,1.9l-1.9,-1.9zM447.8,276.5l1.9,1.9l-1.9,1.9l-1.9,-1.9zM448.8,277.3l1.9,1.9l-1.9,1.9l-1.9,-1.9zM449.8,277.3l1.9,1.9l-1.9,1.9l-1.9,-1.9zM450.8,278.2l1.9,1.9l-1.9,1.9l-1.9,-1.9zM451.8,278.1l1.9,1.9l-1.9,1.9l-1.9,-1.9zM452.8,278.7l1.9,1.9l-1.9,1.9l-1.9,-1.9zM453.8,280.5l1.9,1.9l-1.9,1.9l-1.9,-1.9zM454.8,279.8l1.9,1.9l-1.9,1.9l-1.9,-1.9zM455.8,280.4l1.9,1.9l-1.9,1.9l-1.9,-1.9zM456.8,280.1l1.9,1.9l-1.9,1.9l-1.9,-1.9zM457.8,280.1l1.9,1.9l-1.9,1.9l-1.9,-1.9zM458.8,280.7l1.9,1.9l-1.9,1.9l-1.9,-1.9zM459.8,282.1l1.9,1.9l-1.9,1.9l-1.9,-1.9zM460.8,283.6l1.9,1.9l-1.9,1.9l-1.9,-1.9zM461.8,284.0l1.9,1.9l-1.9,1.9l-1.9,-1.9zM462.8,284.1l1.9,1.9l-1.9,1.9l-1.9,-1.9zM463.8,282.5l1.9,1.9l-1.9,1.9l-1.9,-1.9zM464.8,283.8l1.9,1.9l-1.9,1.9l-1.9,-1.9zM465.8,284.2l1.9,1.9l-1.9,1.9l-1.9,-1.9zM466.8,284.6l1.9,1.9l-1.9,1.9l-1.9,-1.9zM467.8,284.6l1.9,1.9l-1.9,1.9l-1.9,-1.9zM468.8,284.9l1.9,1.9l-1.9,1.9l-1.9,-1.9zM469.8,285.5l1.9,1.9l-1.9,1.9l-1.9,-1.9zM470.8,286.8l1.9,1.9l-1.9,1.9l-1.9,-1.9zM471.8,286.4l1.9,1.9l-1.9,1.9l-1.9,-1.9zM472.8,287.0l1.9,1.9l-1.9,1.9l-1.9,-1.9zM473.8,287.7l1.9,1.9l-1.9,1.9l-1.9,-1.9zM474.8,288.4l1.9,1.9l-1.9,1.9l-1.9,-1.9zM475.8,289.4l1.9,1.9l-1.9,1.9l-1.9,-1.9zM476.8,289.9l1.9,1.9l-1.9,1.9l-1.9,-1.9zM477.8,289.7l1.9,1.9l-1.9,1.9l-1.9,-1.9zM478.8,290.1l1.9,1.9l-1.9,1.9l-1.9,-1.9zM479.8,290.2l1.9,1.9l-1.9,1.9l-1.9,-1.9zM480.8,291.6l1.9,1.9l-1.9,1.9l-1.9,-1.9zM481.8,291.3l1.9,1.9l-1.9,1.9l-1.9,-1.9zM482.8,291.7l1.9,1.9l-1.9,1.9l-1.9,-1.9zM483.8,291.3l1.9,1.9l-1.9,1.9l-1.9,-1.9zM484.8,292.3l1.9,1.9l-1.9,1.9l-1.9,-1.9zM485.8,293.1l1.9,1.9l-1.9,1.9l-1.9,-1.9zM486.8,292.7l1.9,1.9l-1.9,1.9l-1.9,-1.9zM487.8,294.2l1.9,1.9l-1.9,1.9l-1.9,-1.9zM488.8,295.2l1.9,1.9l-1.9,1.9l-1.9,-1.9zM489.8,294.4l1.9,1.9l-1.9,1.9l-1.9,-1.9zM490.8,295.7l1.9,1.9l-1.9,1.9l-1.9,-1.9zM491.8,296.5l1.9,1.9l-1.9,1.9l-1.9,-1.9zM492.8,296.1l1.9,1.9l-1.9,1.9l-1.9,-1.9zM493.8,296.7l1.9,1.9l-1.9,1.9l-1.9,-1.9zM494.8,297.5l1.9,1.9l-1.9,1.9l-1.9,-1.9zM495.8,297.6l1.9,1.9l-1.9,1.9l-1.9,-1.9zM496.8,298.1l1.9,1.9l-1.9,1.9l-1.9,-1.9zM497.8,297.5l1.9,1.9l-1.9,1.9l-1.9,-1.9zM498.8,298.2l1.9,1.9l-1.9,1.9l-1.9,-1.9zM499.8,298.2l1.9,1.9l-1.9,1.9l-1.9,-1.9zM500.8,298.8l1.9,1.9l-1.9,1.9l-1.9,-1.9zM501.8,299.5l1.9,1.9l-1.9,1.9l-1.9,-1.9zM502.8,300.4l1.9,1.9l-1.9,1.9l-1.9,-1.9zM503.8,301.3l1.9,1.9l-1.9,1.9l-1.9,-1.9zM504.8,301.5l1.9,1.9l-1.9,1.9l-1.9,-1.9zM505.8,300.7l1.9,1.9l-1.9,1.9l-1.9,-1.9zM506.8,301.9l1.9,1.9l-1.9,1.9l-1.9,-1.9zM507.8,302.0l1.9,1.9l-1.9,1.9l-1.9,-1.9zM508.8,302.3l1.9,1.9l-1.9,1.9l-1.9,-1.9zM509.8,302.9l1.9,1.9l-1.9,1.9l-1.9,-1.9zM510.8,302.9l1.9,1.9l-1.9,1.9l-1.9,-1.9zM511.8,301.8l1.9,1.9l-1.9,1.9l-1.9,-1.9zM512.8,302.8l1.9,1.9l-1.9,1.9l-1.9,-1.9zM513.8,302.6l1.9,1.9l-1.9,1.9l-1.9,-1.9zM514.8,302.8l1.9,1.9l-1.9,1.9l-1.9,-1.9zM515.8,302.8l1.9,1.9l-1.9,1.9l-1.9,-1.9zM516.8,303.7l1.9,1.9l-1.9,1.9l-1.9,-1.9zM517.8,304.2l1.9,1.9l-1.9,1.9l-1.9,-1.9zM518.8,303.5l1.9,1.9l-1.9,1.9l-1.9,-1.9zM519.8,303.3l1.9,1.9l-1.9,1.9l-1.9,-1.9zM520.8,303.4l1.9,1.9l-1.9,1.9l-1.9,-1.9zM521.8,300.6l1.9,1.9l-1.9,1.9l-1.9,-1.9zM522.8,300.9l1.9,1.9l-1.9,1.9l-1.9,-1.9zM523.8,300.7l1.9,1.9l-1.9,1.9l-1.9,-1.9zM524.8,299.6l1.9,1.9l-1.9,1.9l-1.9,-1.9zM525.8,299.8l1.9,1.9l-1.9,1.9l-1.9,-1.9zM526.8,301.5l1.9,1.9l-1.9,1.9l-1.9,-1.9zM527.8,300.3l1.9,1.9l-1.9,1.9l-1.9,-1.9zM528.8,300.3l1.9,1.9l-1.9,1.9l-1.9,-1.9zM529.8,300.9l1.9,1.9l-1.9,1.9l-1.9,-1.9zM530.8,300.6l1.9,1.9l-1.9,1.9l-1.9,-1.9zM531.8,300.6l1.9,1.9l-1.9,1.9l-1.9,-1.9zM532.8,299.7l1.9,1.9l-1.9,1.9l-1.9,-1.9zM533.8,299.9l1.9,1.9l-1.9,1.9l-1.9,-1.9zM534.8,300.6l1.9,1.9l-1.9,1.9l-1.9,-1.9zM535.8,300.0l1.9,1.9l-1.9,1.9l-1.9,-1.9zM536.8,300.9l1.9,1.9l-1.9,1.9l-1.9,-1.9zM537.8,299.8l1.9,1.9l-1.9,1.9l-1.9,-1.9zM538.8,300.7l1.9,1.9l-1.9,1.9l-1.9,-1.9zM539.8,300.6l1.9,1.9l-1.9,1.9l-1.9,-1.9zM540.8,300.7l1.9,1.9l-1.9,1.9l-1.9,-1.9zM541.8,301.2l1.9,1.9l-1.9,1.9l-1.9,-1.9zM542.8,300.7l1.9,1.9l-1.9,1.9l-1.9,-1.9zM543.8,301.8l1.9,1.9l-1.9,1.9l-1.9,-1.9zM544.8,301.0l1.9,1.9l-1.9,1.9l-1.9,-1.9zM545.8,302.1l1.9,1.9l-1.9,1.9l-1.9,-1.9zM546.8,300.7l1.9,1.9l-1.9,1.9l-1.9,-1.9zM547.8,301.0l1.9,1.9l-1.9,1.9l-1.9,-1.9zM548.8,301.2l1.9,1.9l-1.9,1.9l-1.9,-1.9zM549.8,300.0l1.9,1.9l-1.9,1.9l-1.9,-1.9zM550.8,299.6l1.9,1.9l-1.9,1.9l-1.9,-1.9zM551.8,300.9l1.9,1.9l-1.9,1.9l-1.9,-1.9zM552.8,299.6l1.9,1.9l-1.9,1.9l-1.9,-1.9zM553.8,300.6l1.9,1.9l-1.9,1.9l-1.9,-1.9zM554.8,298.7l1.9,1.9l-1.9,1.9l-1.9,-1.9zM555.8,299.6l1.9,1.9l-1.9,1.9l-1.9,-1.9zM556.8,298.3l1.9,1.9l-1.9,1.9l-1.9,-1.9zM557.8,298.8l1.9,1.9l-1.9,1.9l-1.9,-1.9zM558.8,297.8l1.9,1.9l-1.9,1.9l-1.9,-1.9zM559.8,298.3l1.9,1.9l-1.9,1.9l-1.9,-1.9zM560.8,297.5l1.9,1.9l-1.9,1.9l-1.9,-1.9zM561.8,298.2l1.9,1.9l-1.9,1.9l-1.9,-1.9zM562.8,297.9l1.9,1.9l-1.9,1.9l-1.9,-1.9zM563.8,297.2l1.9,1.9l-1.9,1.9l-1.9,-1.9zM564.8,298.5l1.9,1.9l-1.9,1.9l-1.9,-1.9zM565.8,297.5l1.9,1.9l-1.9,1.9l-1.9,-1.9zM566.8,299.1l1.9,1.9l-1.9,1.9l-1.9,-1.9zM567.8,298.3l1.9,1.9l-1.9,1.9l-1.9,-1.9zM568.8,298.6l1.9,1.9l-1.9,1.9l-1.9,-1.9zM569.8,297.3l1.9,1.9l-1.9,1.9l-1.9,-1.9zM570.8,297.8l1.9,1.9l-1.9,1.9l-1.9,-1.9zM571.8,296.8l1.9,1.9l-1.9,1.9l-1.9,-1.9zM572.8,297.3l1.9,1.9l-1.9,1.9l-1.9,-1.9zM573.8,297.3l1.9,1.9l-1.9,1.9l-1.9,-1.9zM574.8,298.5l1.9,1.9l-1.9,1.9l-1.9,-1.9zM575.8,299.2l1.9,1.9l-1.9,1.9l-1.9,-1.9zM576.8,299.6l1.9,1.9l-1.9,1.9l-1.9,-1.9zM577.8,298.7l1.9,1.9l-1.9,1.9l-1.9,-1.9zM578.8,300.0l1.9,1.9l-1.9,1.9l-1.9,-1.9zM579.8,300.0l1.9,1.9l-1.9,1.9l-1.9,-1.9zM580.8,299.8l1.9,1.9l-1.9,1.9l-1.9,-1.9zM581.8,300.2l1.9,1.9l-1.9,1.9l-1.9,-1.9zM582.8,299.3l1.9,1.9l-1.9,1.9l-1.9,-1.9zM583.8,299.1l1.9,1.9l-1.9,1.9l-1.9,-1.9zM584.8,299.1l1.9,1.9l-1.9,1.9l-1.9,-1.9zM585.8,298.4l1.9,1.9l-1.9,1.9l-1.9,-1.9zM586.8,298.9l1.9,1.9l-1.9,1.9l-1.9,-1.9zM587.8,298.1l1.9,1.9l-1.9,1.9l-1.9,-1.9zM588.8,298.1l1.9,1.9l-1.9,1.9l-1.9,-1.9zM589.8,298.9l1.9,1.9l-1.9,1.9l-1.9,-1.9zM590.8,299.4l1.9,1.9l-1.9,1.9l-1.9,-1.9zM591.8,298.8l1.9,1.9l-1.9,1.9l-1.9,-1.9zM592.8,300.0l1.9,1.9l-1.9,1.9l-1.9,-1.9zM593.8,300.1l1.9,1.9l-1.9,1.9l-1.9,-1.9zM594.8,299.6l1.9,1.9l-1.9,1.9l-1.9,-1.9zM595.8,299.3l1.9,1.9l-1.9,1.9l-1.9,-1.9zM596.8,300.2l1.9,1.9l-1.9,1.9l-1.9,-1.9zM597.8,300.4l1.9,1.9l-1.9,1.9l-1.9,-1.9zM598.8,298.8l1.9,1.9l-1.9,1.9l-1.9,-1.9zM599.8,299.7l1.9,1.9l-1.9,1.9l-1.9,-1.9zM600.8,299.0l1.9,1.9l-1.9,1.9l-1.9,-1.9zM601.8,297.8l1.9,1.9l-1.9,1.9l-1.9,-1.9zM602.8,297.8l1.9,1.9l-1.9,1.9l-1.9,-1.9zM603.8,297.9l1.9,1.9l-1.9,1.9l-1.9,-1.9zM604.8,299.0l1.9,1.9l-1.9,1.9l-1.9,-1.9zM605.8,297.8l1.9,1.9l-1.9,1.9l-1.9,-1.9zM606.8,298.4l1.9,1.9l-1.9,1.9l-1.9,-1.9zM607.8,299.1l1.9,1.9l-1.9,1.9l-1.9,-1.9zM608.8,298.8l1.9,1.9l-1.9,1.9l-1.9,-1.9zM609.8,299.1l1.9,1.9l-1.9,1.9l-1.9,-1.9zM610.8,299.4l1.9,1.9l-1.9,1.9l-1.9,-1.9zM611.8,301.1l1.9,1.9l-1.9,1.9l-1.9,-1.9zM612.8,299.9l1.9,1.9l-1.9,1.9l-1.9,-1.9zM613.8,300.9l1.9,1.9l-1.9,1.9l-1.9,-1.9zM614.8,300.9l1.9,1.9l-1.9,1.9l-1.9,-1.9zM615.8,300.6l1.9,1.9l-1.9,1.9l-1.9,-1.9zM616.8,301.1l1.9,1.9l-1.9,1.9l-1.9,-1.9z" stroke="#333333" stroke-width="1.3" fill="none" stroke-linejoin="miter" shape-rendering="crispEdges"/>
<path d="M96.1,60.51 L97.1,60.74 L98.1,60.98 L99.1,61.23 L100.1,61.48 L101.1,61.73 L102.1,61.99 L103.1,62.24 L104.1,62.49 L105.1,62.76 L106.1,63.03 L107.1,63.30 L108.1,63.57 L109.1,63.88 L110.1,64.30 L111.1,64.72 L112.1,65.15 L113.1,65.58 L114.1,66.01 L115.1,66.43 L116.1,66.85 L117.1,67.26 L118.1,67.82 L119.1,68.49 L120.1,69.17 L121.1,69.86 L122.1,70.55 L123.1,71.23 L124.1,71.89 L125.1,72.55 L126.1,73.21 L127.1,73.86 L128.1,74.52 L129.1,75.17 L130.1,75.84 L131.1,76.52 L132.1,77.19 L133.1,77.87 L134.1,78.54 L135.1,79.22 L136.1,79.89 L137.1,80.58 L138.1,81.29 L139.1,82.01 L140.1,82.72 L141.1,83.44 L142.1,84.15 L143.1,84.86 L144.1,85.57 L145.1,86.29 L146.1,87.07 L147.1,87.85 L148.1,88.64 L149.1,89.43 L150.1,90.22 L151.1,91.01 L152.1,91.78 L153.1,92.51 L154.1,93.24 L155.1,93.98 L156.1,94.83 L157.1,95.68 L158.1,96.54 L159.1,97.40 L160.1,98.25 L161.1,99.11 L162.1,99.97 L163.1,100.83 L164.1,101.68 L165.1,102.53 L166.1,103.45 L167.1,104.46 L168.1,105.48 L169.1,106.50 L170.1,107.53 L171.1,108.55 L172.1,109.58 L173.1,110.60 L174.1,111.62 L175.1,112.64 L176.1,113.67 L177.1,114.70 L178.1,115.74 L179.1,116.77 L180.1,117.81 L181.1,118.85 L182.1,119.88 L183.1,120.91 L184.1,121.94 L185.1,123.04 L186.1,124.17 L187.1,125.31 L188.1,126.45 L189.1,127.59 L190.1,128.73 L191.1,129.87 L192.1,131.01 L193.1,132.14 L194.1,133.29 L195.1,134.43 L196.1,135.58 L197.1,136.73 L198.1,137.87 L199.1,139.08 L200.1,140.29 L201.1,141.50 L202.1,142.72 L203.1,143.93 L204.1,145.13 L205.1,146.27 L206.1,147.42 L207.1,148.56 L208.1,149.71 L209.1,150.85 L210.1,151.99 L211.1,153.14 L212.1,154.29 L213.1,155.37 L214.1,156.41 L215.1,157.44 L216.1,158.46 L217.1,159.49 L218.1,160.52 L219.1,161.51 L220.1,162.46 L221.1,163.41 L222.1,164.35 L223.1,165.30 L224.1,166.24 L225.1,167.18 L226.1,168.14 L227.1,169.23 L228.1,170.32 L229.1,171.42 L230.1,172.52 L231.1,173.62 L232.1,174.72 L233.1,175.82 L234.1,176.92 L235.1,178.00 L236.1,179.08 L237.1,180.15 L238.1,181.21 L239.1,182.28 L240.1,183.35 L241.1,184.42 L242.1,185.50 L243.1,186.58 L244.1,187.61 L245.1,188.55 L246.1,189.49 L247.1,190.42 L248.1,191.34 L249.1,192.26 L250.1,193.27 L251.1,194.32 L252.1,195.38 L253.1,196.44 L254.1,197.50 L255.1,198.56 L256.1,199.62 L257.1,200.69 L258.1,201.75 L259.1,202.81 L260.1,203.87 L261.1,204.94 L262.1,206.00 L263.1,207.06 L264.1,208.12 L265.1,209.19 L266.1,210.25 L267.1,211.32 L268.1,212.38 L269.1,213.45 L270.1,214.52 L271.1,215.59 L272.1,216.65 L273.1,217.72 L274.1,218.80 L275.1,219.83 L276.1,220.85 L277.1,221.87 L278.1,222.88 L279.1,223.90 L280.1,224.92 L281.1,225.92 L282.1,226.91 L283.1,227.90 L284.1,228.88 L285.1,229.86 L286.1,230.82 L287.1,231.84 L288.1,233.10 L289.1,234.39 L290.1,235.67 L291.1,236.89 L292.1,237.89 L293.1,238.88 L294.1,239.85 L295.1,240.82 L296.1,241.79 L297.1,242.77 L298.1,243.74 L299.1,244.71 L300.1,245.69 L301.1,246.66 L302.1,247.61 L303.1,248.51 L304.1,249.41 L305.1,250.31 L306.1,251.21 L307.1,252.11 L308.1,252.98 L309.1,253.81 L310.1,254.64 L311.1,255.47 L312.1,256.31 L313.1,257.15 L314.1,257.92 L315.1,258.66 L316.1,259.39 L317.1,260.13 L318.1,260.83 L319.1,261.50 L320.1,262.18 L321.1,262.86 L322.1,263.40 L323.1,263.92 L324.1,264.44 L325.1,264.95 L326.1,265.35 L327.1,265.76 L328.1,266.17 L329.1,266.57 L330.1,266.88 L331.1,267.18 L332.1,267.49 L333.1,267.79 L334.1,268.00 L335.1,268.22 L336.1,268.43 L337.1,268.62 L338.1,268.76 L339.1,268.90 L340.1,269.03 L341.1,269.09 L342.1,269.15 L343.1,269.21 L344.1,269.24 L345.1,269.23 L346.1,269.21 L347.1,269.19 L348.1,269.17 L349.1,269.15 L350.1,269.12 L351.1,269.03 L352.1,268.93 L353.1,268.84 L354.1,268.75 L355.1,268.65 L356.1,268.56 L357.1,268.47 L358.1,268.37 L359.1,268.26 L360.1,268.10 L361.1,267.95 L362.1,267.80 L363.1,267.65 L364.1,267.50 L365.1,267.35 L366.1,267.20 L367.1,267.05 L368.1,266.90 L369.1,266.77 L370.1,266.65 L371.1,266.53 L372.1,266.41 L373.1,266.29 L374.1,266.18 L375.1,266.06 L376.1,265.94 L377.1,265.82 L378.1,265.72 L379.1,265.67 L380.1,265.62 L381.1,265.57 L382.1,265.52 L383.1,265.46 L384.1,265.41 L385.1,265.36 L386.1,265.31 L387.1,265.26 L388.1,265.25 L389.1,265.27 L390.1,265.27 L391.1,265.28 L392.1,265.30 L393.1,265.31 L394.1,265.32 L395.1,265.33 L396.1,265.33 L397.1,265.34 L398.1,265.41 L399.1,265.48 L400.1,265.56 L401.1,265.64 L402.1,265.71 L403.1,265.79 L404.1,265.86 L405.1,265.94 L406.1,266.01 L407.1,266.12 L408.1,266.25 L409.1,266.38 L410.1,266.51 L411.1,266.64 L412.1,266.77 L413.1,266.90 L414.1,267.03 L415.1,267.15 L416.1,267.30 L417.1,267.47 L418.1,267.63 L419.1,267.80 L420.1,267.97 L421.1,268.14 L422.1,268.31 L423.1,268.48 L424.1,268.64 L425.1,268.81 L426.1,269.06 L427.1,269.30 L428.1,269.56 L429.1,269.82 L430.1,270.07 L431.1,270.33 L432.1,270.58 L433.1,270.84 L434.1,271.09 L435.1,271.37 L436.1,271.64 L437.1,271.92 L438.1,272.20 L439.1,272.47 L440.1,272.75 L441.1,273.03 L442.1,273.30 L443.1,273.57 L444.1,273.87 L445.1,274.21 L446.1,274.55 L447.1,274.90 L448.1,275.24 L449.1,275.59 L450.1,275.94 L451.1,276.28 L452.1,276.63 L453.1,276.97 L454.1,277.35 L455.1,277.72 L456.1,278.10 L457.1,278.48 L458.1,278.86 L459.1,279.24 L460.1,279.62 L461.1,280.00 L462.1,280.39 L463.1,280.72 L464.1,281.02 L465.1,281.31 L466.1,281.59 L467.1,281.88 L468.1,282.16 L469.1,282.48 L470.1,282.88 L471.1,283.28 L472.1,283.69 L473.1,284.11 L474.1,284.52 L475.1,284.93 L476.1,285.34 L477.1,285.75 L478.1,286.16 L479.1,286.59 L480.1,287.02 L481.1,287.45 L482.1,287.88 L483.1,288.31 L484.1,288.74 L485.1,289.18 L486.1,289.61 L487.1,290.04 L488.1,290.46 L489.1,290.87 L490.1,291.29 L491.1,291.70 L492.1,292.11 L493.1,292.52 L494.1,292.93 L495.1,293.34 L496.1,293.75 L497.1,294.16 L498.1,294.55 L499.1,294.94 L500.1,295.33 L501.1,295.72 L502.1,296.11 L503.1,296.50 L504.1,296.89 L505.1,297.28 L506.1,297.68 L507.1,298.02 L508.1,298.35 L509.1,298.67 L510.1,298.99 L511.1,299.32 L512.1,299.64 L513.1,299.97 L514.1,300.29 L515.1,300.62 L516.1,300.92 L517.1,301.20 L518.1,301.47 L519.1,301.75 L520.1,302.02 L521.1,302.30 L522.1,302.57 L523.1,302.84 L524.1,303.12 L525.1,303.39 L526.1,303.60 L527.1,303.81 L528.1,304.01 L529.1,304.21 L530.1,304.41 L531.1,304.61 L532.1,304.81 L533.1,305.01 L534.1,305.21 L535.1,305.36 L536.1,305.51 L537.1,305.65 L538.1,305.79 L539.1,305.94 L540.1,306.08 L541.1,306.22 L542.1,306.37 L543.1,306.51 L544.1,306.65 L545.1,306.77 L546.1,306.89 L547.1,307.01 L548.1,307.13 L549.1,307.25 L550.1,307.37 L551.1,307.49 L552.1,307.61 L553.1,307.73 L554.1,307.81 L555.1,307.90 L556.1,307.98 L557.1,308.07 L558.1,308.15 L559.1,308.24 L560.1,308.32 L561.1,308.41 L562.1,308.49 L563.1,308.57 L564.1,308.63 L565.1,308.69 L566.1,308.76 L567.1,308.82 L568.1,308.88 L569.1,308.95 L570.1,309.01 L571.1,309.08 L572.1,309.14 L573.1,309.18 L574.1,309.22 L575.1,309.25 L576.1,309.29 L577.1,309.33 L578.1,309.37 L579.1,309.41 L580.1,309.44 L581.1,309.46 L582.1,309.47 L583.1,309.49 L584.1,309.50 L585.1,309.51 L586.1,309.53 L587.1,309.54 L588.1,309.55 L589.1,309.57 L590.1,309.58 L591.1,309.59 L592.1,309.61 L593.1,309.62 L594.1,309.63 L595.1,309.65 L596.1,309.65 L597.1,309.66 L598.1,309.66 L599.1,309.67 L600.1,309.67 L601.1,309.68 L602.1,309.68 L603.1,309.68 L604.1,309.69 L605.1,309.69 L606.1,309.70 L607.1,309.70 L608.1,309.71 L609.1,309.71 L610.1,309.72 L611.1,309.72 L612.1,309.72 L613.1,309.73 L614.1,309.73 L615.1,309.74 L616.1,309.74 L617.1,309.75 L617.5,309.75 L617.5,312.05 L617.1,312.05 L616.1,312.04 L615.1,312.04 L614.1,312.04 L613.1,312.03 L612.1,312.03 L611.1,312.02 L610.1,312.02 L609.1,312.01 L608.1,312.01 L607.1,312.01 L606.1,312.00 L605.1,312.00 L604.1,311.99 L603.1,311.99 L602.1,311.98 L601.1,311.98 L600.1,311.97 L599.1,311.97 L598.1,311.97 L597.1,311.96 L596.1,311.96 L595.1,311.95 L594.1,311.94 L593.1,311.93 L592.1,311.92 L591.1,311.90 L590.1,311.89 L589.1,311.88 L588.1,311.86 L587.1,311.85 L586.1,311.84 L585.1,311.82 L584.1,311.81 L583.1,311.80 L582.1,311.78 L581.1,311.77 L580.1,311.76 L579.1,311.73 L578.1,311.69 L577.1,311.65 L576.1,311.62 L575.1,311.58 L574.1,311.54 L573.1,311.51 L572.1,311.47 L571.1,311.41 L570.1,311.35 L569.1,311.29 L568.1,311.22 L567.1,311.16 L566.1,311.10 L565.1,311.03 L564.1,310.97 L563.1,310.91 L562.1,310.84 L561.1,310.76 L560.1,310.67 L559.1,310.59 L558.1,310.51 L557.1,310.42 L556.1,310.34 L555.1,310.25 L554.1,310.17 L553.1,310.09 L552.1,309.98 L551.1,309.86 L550.1,309.74 L549.1,309.62 L548.1,309.51 L547.1,309.39 L546.1,309.27 L545.1,309.15 L544.1,309.03 L543.1,308.90 L542.1,308.76 L541.1,308.62 L540.1,308.47 L539.1,308.33 L538.1,308.18 L537.1,308.04 L536.1,307.90 L535.1,307.76 L534.1,307.62 L533.1,307.43 L532.1,307.23 L531.1,307.03 L530.1,306.83 L529.1,306.63 L528.1,306.43 L527.1,306.23 L526.1,306.04 L525.1,305.85 L524.1,305.58 L523.1,305.32 L522.1,305.04 L521.1,304.77 L520.1,304.50 L519.1,304.22 L518.1,303.95 L517.1,303.68 L516.1,303.41 L515.1,303.12 L514.1,302.80 L513.1,302.48 L512.1,302.15 L511.1,301.83 L510.1,301.50 L509.1,301.18 L508.1,300.85 L507.1,300.54 L506.1,300.21 L505.1,299.82 L504.1,299.44 L503.1,299.05 L502.1,298.66 L501.1,298.27 L500.1,297.88 L499.1,297.49 L498.1,297.10 L497.1,296.72 L496.1,296.31 L495.1,295.90 L494.1,295.49 L493.1,295.08 L492.1,294.67 L491.1,294.26 L490.1,293.85 L489.1,293.44 L488.1,293.03 L487.1,292.61 L486.1,292.18 L485.1,291.75 L484.1,291.32 L483.1,290.89 L482.1,290.46 L481.1,290.03 L480.1,289.59 L479.1,289.16 L478.1,288.73 L477.1,288.31 L476.1,287.90 L475.1,287.49 L474.1,287.08 L473.1,286.67 L472.1,286.26 L471.1,285.85 L470.1,285.43 L469.1,285.01 L468.1,284.67 L467.1,284.37 L466.1,284.08 L465.1,283.79 L464.1,283.51 L463.1,283.23 L462.1,282.91 L461.1,282.54 L460.1,282.16 L459.1,281.78 L458.1,281.40 L457.1,281.02 L456.1,280.65 L455.1,280.27 L454.1,279.89 L453.1,279.50 L452.1,279.15 L451.1,278.80 L450.1,278.46 L449.1,278.11 L448.1,277.77 L447.1,277.42 L446.1,277.07 L445.1,276.72 L444.1,276.37 L443.1,276.07 L442.1,275.78 L441.1,275.50 L440.1,275.23 L439.1,274.95 L438.1,274.67 L437.1,274.40 L436.1,274.12 L435.1,273.84 L434.1,273.56 L433.1,273.30 L432.1,273.05 L431.1,272.79 L430.1,272.54 L429.1,272.28 L428.1,272.02 L427.1,271.77 L426.1,271.51 L425.1,271.24 L424.1,271.06 L423.1,270.88 L422.1,270.72 L421.1,270.55 L420.1,270.38 L419.1,270.21 L418.1,270.04 L417.1,269.87 L416.1,269.70 L415.1,269.54 L414.1,269.41 L413.1,269.28 L412.1,269.15 L411.1,269.02 L410.1,268.89 L409.1,268.76 L408.1,268.63 L407.1,268.50 L406.1,268.37 L405.1,268.29 L404.1,268.21 L403.1,268.14 L402.1,268.06 L401.1,267.98 L400.1,267.91 L399.1,267.83 L398.1,267.75 L397.1,267.67 L396.1,267.65 L395.1,267.63 L394.1,267.62 L393.1,267.61 L392.1,267.60 L391.1,267.59 L390.1,267.58 L389.1,267.57 L388.1,267.56 L387.1,267.58 L386.1,267.64 L385.1,267.69 L384.1,267.75 L383.1,267.80 L382.1,267.85 L381.1,267.90 L380.1,267.96 L379.1,268.01 L378.1,268.07 L377.1,268.19 L376.1,268.31 L375.1,268.43 L374.1,268.55 L373.1,268.67 L372.1,268.79 L371.1,268.91 L370.1,269.03 L369.1,269.15 L368.1,269.29 L367.1,269.44 L366.1,269.60 L365.1,269.75 L364.1,269.90 L363.1,270.05 L362.1,270.20 L361.1,270.35 L360.1,270.49 L359.1,270.64 L358.1,270.75 L357.1,270.83 L356.1,270.92 L355.1,271.01 L354.1,271.10 L353.1,271.20 L352.1,271.29 L351.1,271.37 L350.1,271.46 L349.1,271.48 L348.1,271.49 L347.1,271.50 L346.1,271.52 L345.1,271.53 L344.1,271.55 L343.1,271.52 L342.1,271.48 L341.1,271.43 L340.1,271.38 L339.1,271.27 L338.1,271.15 L337.1,271.03 L336.1,270.84 L335.1,270.65 L334.1,270.45 L333.1,270.25 L332.1,269.97 L331.1,269.68 L330.1,269.38 L329.1,269.09 L328.1,268.71 L327.1,268.32 L326.1,267.93 L325.1,267.53 L324.1,267.05 L323.1,266.55 L322.1,266.06 L321.1,265.54 L320.1,264.89 L319.1,264.23 L318.1,263.57 L317.1,262.88 L316.1,262.16 L315.1,261.43 L314.1,260.71 L313.1,259.95 L312.1,259.13 L311.1,258.31 L310.1,257.48 L309.1,256.65 L308.1,255.82 L307.1,254.97 L306.1,254.08 L305.1,253.19 L304.1,252.29 L303.1,251.40 L302.1,250.51 L301.1,249.57 L300.1,248.60 L299.1,247.63 L298.1,246.66 L297.1,245.69 L296.1,244.72 L295.1,243.74 L294.1,242.77 L293.1,241.80 L292.1,240.84 L291.1,239.90 L290.1,238.73 L289.1,237.45 L288.1,236.17 L287.1,234.87 L286.1,233.81 L285.1,232.80 L284.1,231.81 L283.1,230.83 L282.1,229.84 L281.1,228.86 L280.1,227.86 L279.1,226.85 L278.1,225.83 L277.1,224.82 L276.1,223.80 L275.1,222.79 L274.1,221.76 L273.1,220.70 L272.1,219.64 L271.1,218.57 L270.1,217.50 L269.1,216.43 L268.1,215.37 L267.1,214.30 L266.1,213.23 L265.1,212.17 L264.1,211.10 L263.1,210.04 L262.1,208.98 L261.1,207.92 L260.1,206.85 L259.1,205.79 L258.1,204.73 L257.1,203.67 L256.1,202.60 L255.1,201.54 L254.1,200.48 L253.1,199.42 L252.1,198.36 L251.1,197.29 L250.1,196.22 L249.1,195.19 L248.1,194.25 L247.1,193.31 L246.1,192.38 L245.1,191.46 L244.1,190.54 L243.1,189.53 L242.1,188.47 L241.1,187.41 L240.1,186.34 L239.1,185.27 L238.1,184.20 L237.1,183.13 L236.1,182.06 L235.1,180.99 L234.1,179.92 L233.1,178.82 L232.1,177.72 L231.1,176.62 L230.1,175.52 L229.1,174.42 L228.1,173.32 L227.1,172.21 L226.1,171.10 L225.1,170.11 L224.1,169.15 L223.1,168.20 L222.1,167.26 L221.1,166.31 L220.1,165.37 L219.1,164.43 L218.1,163.46 L217.1,162.44 L216.1,161.42 L215.1,160.39 L214.1,159.37 L213.1,158.36 L212.1,157.29 L211.1,156.16 L210.1,155.02 L209.1,153.88 L208.1,152.74 L207.1,151.59 L206.1,150.45 L205.1,149.31 L204.1,148.17 L203.1,146.99 L202.1,145.78 L201.1,144.57 L200.1,143.36 L199.1,142.15 L198.1,140.93 L197.1,139.77 L196.1,138.62 L195.1,137.47 L194.1,136.32 L193.1,135.18 L192.1,134.04 L191.1,132.90 L190.1,131.76 L189.1,130.62 L188.1,129.48 L187.1,128.34 L186.1,127.20 L185.1,126.05 L184.1,124.93 L183.1,123.89 L182.1,122.85 L181.1,121.81 L180.1,120.77 L179.1,119.74 L178.1,118.70 L177.1,117.66 L176.1,116.63 L175.1,115.60 L174.1,114.58 L173.1,113.55 L172.1,112.53 L171.1,111.51 L170.1,110.48 L169.1,109.46 L168.1,108.44 L167.1,107.41 L166.1,106.37 L165.1,105.42 L164.1,104.54 L163.1,103.68 L162.1,102.82 L161.1,101.96 L160.1,101.10 L159.1,100.24 L158.1,99.39 L157.1,98.53 L156.1,97.66 L155.1,96.79 L154.1,96.03 L153.1,95.29 L152.1,94.56 L151.1,93.80 L150.1,93.02 L149.1,92.23 L148.1,91.44 L147.1,90.66 L146.1,89.86 L145.1,89.07 L144.1,88.34 L143.1,87.62 L142.1,86.91 L141.1,86.19 L140.1,85.48 L139.1,84.76 L138.1,84.05 L137.1,83.33 L136.1,82.63 L135.1,81.95 L134.1,81.28 L133.1,80.60 L132.1,79.92 L131.1,79.25 L130.1,78.57 L129.1,77.90 L128.1,77.24 L127.1,76.58 L126.1,75.93 L125.1,75.27 L124.1,74.62 L123.1,73.96 L122.1,73.28 L121.1,72.60 L120.1,71.91 L119.1,71.21 L118.1,70.50 L117.1,69.90 L116.1,69.45 L115.1,69.01 L114.1,68.58 L113.1,68.15 L112.1,67.72 L111.1,67.29 L110.1,66.86 L109.1,66.42 L108.1,66.08 L107.1,65.79 L106.1,65.51 L105.1,65.23 L104.1,64.96 L103.1,64.70 L102.1,64.45 L101.1,64.20 L100.1,63.94 L99.1,63.69 L98.1,63.44 L97.1,63.16 L96.1,62.89Z" fill="#e26261" stroke="none" shape-rendering="crispEdges"/>
<path d="M571.5,36.8 l1.6,1.6 l-1.6,1.6 l-1.6,-1.6 z" stroke="#333333" stroke-width="1.3" fill="#fff"/>
<path d="M546,56.9 H596" stroke="#e26261" stroke-width="2.3" fill="none"/>
<path d="M97.3,63.9 l1.6,1.6 l-1.6,1.6 l-1.6,-1.6 z" stroke="#333333" stroke-width="1.3" fill="#fff"/>
</svg></body></html>
